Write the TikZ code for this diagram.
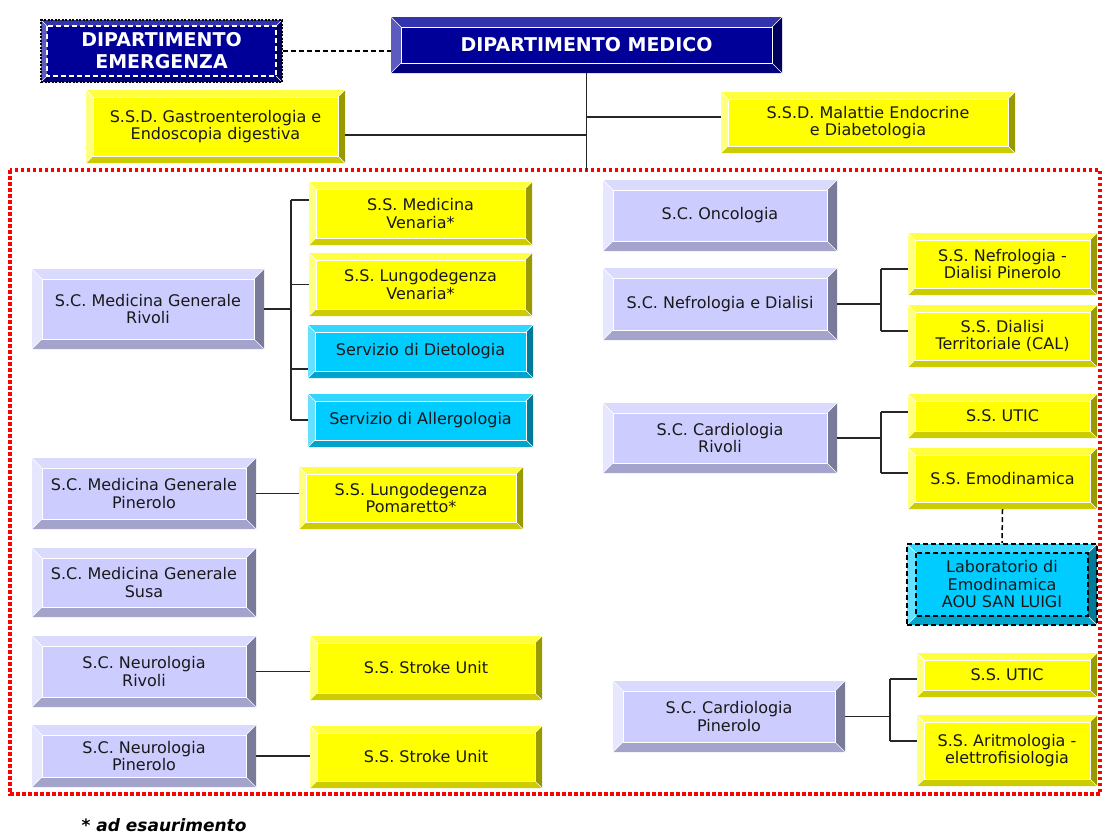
\documentclass[tikz,border=0pt]{standalone}
\usepackage{fontspec}
\setmainfont{DejaVu Sans}
\usepackage{xcolor}
\usepackage{tikz}

% bevel colours: face, top, left, bottom, right
\definecolor{yelF}{HTML}{FFFF00}
\definecolor{yelT}{HTML}{FFFF40}
\definecolor{yelL}{HTML}{FFFF80}
\definecolor{yelB}{HTML}{CCCC00}
\definecolor{yelR}{HTML}{999900}
\definecolor{lavF}{HTML}{CCCCFF}
\definecolor{lavT}{HTML}{DADAFF}
\definecolor{lavL}{HTML}{E6E6FF}
\definecolor{lavB}{HTML}{A3A3CC}
\definecolor{lavR}{HTML}{7A7A99}
\definecolor{cyaF}{HTML}{00CCFF}
\definecolor{cyaT}{HTML}{33D6FF}
\definecolor{cyaL}{HTML}{66E0FF}
\definecolor{cyaB}{HTML}{00A3CC}
\definecolor{cyaR}{HTML}{007A99}
\definecolor{navF}{HTML}{000099}
\definecolor{navT}{HTML}{3333AD}
\definecolor{navL}{HTML}{5C5CC0}
\definecolor{navB}{HTML}{00007A}
\definecolor{navR}{HTML}{00005C}

\begin{document}
\begin{tikzpicture}[x=1pt, y=-1pt,
    every node/.append style={font=\fontsize{16}{17.5}\selectfont, text=black!90},
    bevel width/.store in=\bevw, bevel width=7pt,
    bevel inner/.style={draw=white, line width=0.6pt},
    bevel/.style={fill=#1F, inner sep=0pt, align=center, path picture={
        \path (path picture bounding box.north west) coordinate (bvA)
              (path picture bounding box.north east) coordinate (bvB)
              (path picture bounding box.south east) coordinate (bvC)
              (path picture bounding box.south west) coordinate (bvD)
              ([shift={(\bevw,-\bevw)}]bvA) coordinate (bva)
              ([shift={(-\bevw,-\bevw)}]bvB) coordinate (bvb)
              ([shift={(-\bevw,\bevw)}]bvC) coordinate (bvc)
              ([shift={(\bevw,\bevw)}]bvD) coordinate (bvd);
        \fill[#1T] (bvA) -- (bvB) -- (bvb) -- (bva) -- cycle;
        \fill[#1L] (bvA) -- (bva) -- (bvd) -- (bvD) -- cycle;
        \fill[#1B] (bvD) -- (bvd) -- (bvc) -- (bvC) -- cycle;
        \fill[#1R] (bvB) -- (bvC) -- (bvc) -- (bvb) -- cycle;
        \draw[white, solid, line width=0.5pt] (bvA) -- (bva) (bvB) -- (bvb) (bvC) -- (bvc) (bvD) -- (bvd);
        \path[bevel inner] (bva) rectangle (bvc);
    }},
    ss/.style={bevel=yel, bevel width=7pt},
    sc/.style={bevel=lav, bevel width=10pt},
    serv/.style={bevel=cya, bevel width=7pt},
    dept/.style={bevel=nav, bevel width=10pt, text=white, font=\bfseries\fontsize{19}{22}\selectfont},
    link/.style={draw=black!85, line width=1.3pt},
    dashlink/.style={draw=black, line width=1.5pt, dash pattern=on 5pt off 3pt}]
    \useasboundingbox (0,0) rectangle (1102,833);

    % departments
    \node[dept, minimum width=241pt, minimum height=62pt, draw=black, dash pattern=on 2pt off 1.5pt, line width=1.8pt,
          bevel width=6pt, bevel inner/.style={draw=white, dash pattern=on 5pt off 3pt, line width=1.5pt}] (emerg) at (161.5,51) {DIPARTIMENTO\\EMERGENZA};
    \node[dept, minimum width=391pt, minimum height=56pt] (medico) at (586.5,45) {DIPARTIMENTO MEDICO};
    \node[ss, minimum width=259pt, minimum height=73pt] (gastro) at (215.5,126.5) {S.S.D. Gastroenterologia e\\Endoscopia digestiva};
    \node[ss, minimum width=294pt, minimum height=61pt] (endo) at (868,122.5) {S.S.D. Malattie Endocrine\\e Diabetologia};

    % area frame
    \draw[red, line width=3.5pt, dash pattern=on 3.5pt off 2.5pt] (10,170) rectangle (1100,794);

    % left column
    \node[sc, minimum width=232pt, minimum height=80pt] (mgRivoli) at (148,309) {S.C. Medicina Generale\\Rivoli};
    \node[ss, minimum width=223pt, minimum height=63pt] (ssVenaria) at (420.5,213.5) {S.S. Medicina\\Venaria*};
    \node[ss, minimum width=223pt, minimum height=63pt] (lungoVen) at (420.5,284.5) {S.S. Lungodegenza\\Venaria*};
    \node[serv, minimum width=225pt, minimum height=53pt] (dieto) at (420.5,351.5) {Servizio di Dietologia};
    \node[serv, minimum width=225pt, minimum height=53pt] (allergo) at (420.5,420.5) {Servizio di Allergologia};
    \node[sc, minimum width=224pt, minimum height=71pt] (mgPinerolo) at (144,493.5) {S.C. Medicina Generale\\Pinerolo};
    \node[ss, minimum width=224pt, minimum height=62pt] (lungoPom) at (411,498) {S.S. Lungodegenza\\Pomaretto*};
    \node[sc, minimum width=224pt, minimum height=69pt] (mgSusa) at (144,582.5) {S.C. Medicina Generale\\Susa};
    \node[sc, minimum width=224pt, minimum height=71pt] (neuRivoli) at (144,671.5) {S.C. Neurologia\\Rivoli};
    \node[ss, minimum width=232pt, minimum height=64pt] (strokeA) at (426,668) {S.S. Stroke Unit};
    \node[sc, minimum width=224pt, minimum height=62pt] (neuPinerolo) at (144,756) {S.C. Neurologia\\Pinerolo};
    \node[ss, minimum width=232pt, minimum height=62pt] (strokeB) at (426,757) {S.S. Stroke Unit};

    % right column
    \node[sc, minimum width=234pt, minimum height=71pt] (onco) at (720,215.5) {S.C. Oncologia};
    \node[sc, minimum width=234pt, minimum height=72pt] (nefro) at (720,304) {S.C. Nefrologia e Dialisi};
    \node[ss, minimum width=189pt, minimum height=62pt] (nefroPin) at (1002.5,264) {S.S. Nefrologia -\\Dialisi Pinerolo};
    \node[ss, minimum width=189pt, minimum height=62pt] (dialCal) at (1002.5,336) {S.S. Dialisi\\Territoriale (CAL)};
    \node[sc, minimum width=234pt, minimum height=70pt] (cardRivoli) at (720,438) {S.C. Cardiologia\\Rivoli};
    \node[ss, minimum width=189pt, minimum height=44pt] (uticA) at (1002.5,416) {S.S. UTIC};
    \node[ss, minimum width=189pt, minimum height=61pt] (emodin) at (1002.5,478.5) {S.S. Emodinamica};
    \node[serv, minimum width=190pt, minimum height=81pt, bevel width=9pt, draw=black, dash pattern=on 5pt off 3pt, line width=1.6pt,
          bevel inner/.style={draw=black, dash pattern=on 5pt off 3pt, line width=1.6pt}] (labo) at (1002,584.5) {Laboratorio di\\Emodinamica\\AOU SAN LUIGI};
    \node[sc, minimum width=232pt, minimum height=71pt] (cardPinerolo) at (729,716.5) {S.C. Cardiologia\\Pinerolo};
    \node[ss, minimum width=180pt, minimum height=44pt] (uticB) at (1007,675) {S.S. UTIC};
    \node[ss, minimum width=180pt, minimum height=71pt] (aritmo) at (1007,750.5) {S.S. Aritmologia -\\elettrofisiologia};

    % top links
    \draw[dashlink] (emerg.east) -- (medico.west |- emerg.east);
    \coordinate (trunk) at (586.5,170);
    \coordinate (jGas) at (586.5,135);
    \coordinate (jEnd) at (586.5,117);
    \draw[link] (medico.south) -- (trunk);
    \draw[link] (gastro.east |- jGas) -- (jGas);
    \draw[link] (jEnd) -- (endo.west |- jEnd);

    % Medicina Generale Rivoli branches
    \coordinate (brMgTop) at (291,200);
    \coordinate (brMgBot) at (291,420);
    \coordinate (jDiet) at (291,369);
    \draw[link] (mgRivoli.east) -- (mgRivoli.east -| brMgTop);
    \draw[link] (brMgTop) -- (brMgBot);
    \draw[link] (brMgTop) -- (ssVenaria.west |- brMgTop);
    \draw[link] (lungoVen.west -| brMgTop) -- (lungoVen.west);
    \draw[link] (jDiet) -- (dieto.west |- jDiet);
    \draw[link] (brMgBot) -- (allergo.west |- brMgBot);

    \draw[link] (mgPinerolo.east) -- (lungoPom.west |- mgPinerolo.east);
    \draw[link] (neuRivoli.east) -- (strokeA.west |- neuRivoli.east);
    \draw[link] (neuPinerolo.east) -- (strokeB.west |- neuPinerolo.east);

    % Nefrologia branches
    \coordinate (brNfTop) at (881,269);
    \coordinate (brNfBot) at (881,331);
    \draw[link] (nefro.east) -- (nefro.east -| brNfTop);
    \draw[link] (brNfTop) -- (brNfBot);
    \draw[link] (brNfTop) -- (nefroPin.west |- brNfTop);
    \draw[link] (brNfBot) -- (dialCal.west |- brNfBot);

    % Cardiologia Rivoli branches
    \coordinate (brCrTop) at (881,412);
    \coordinate (brCrBot) at (881,473);
    \draw[link] (cardRivoli.east) -- (cardRivoli.east -| brCrTop);
    \draw[link] (brCrTop) -- (brCrBot);
    \draw[link] (brCrTop) -- (uticA.west |- brCrTop);
    \draw[link] (brCrBot) -- (emodin.west |- brCrBot);
    \draw[dashlink] (emodin.south) -- (labo.north);

    % Cardiologia Pinerolo branches
    \coordinate (brCpTop) at (890,679);
    \coordinate (brCpBot) at (890,741);
    \draw[link] (cardPinerolo.east) -- (cardPinerolo.east -| brCpTop);
    \draw[link] (brCpTop) -- (brCpBot);
    \draw[link] (brCpTop) -- (uticB.west |- brCpTop);
    \draw[link] (brCpBot) -- (aritmo.west |- brCpBot);

    \node[anchor=base west, text=black, font=\bfseries\itshape\fontsize{17}{20}\selectfont] (note) at (78,831) {* ad esaurimento};
\end{tikzpicture}
\end{document}
